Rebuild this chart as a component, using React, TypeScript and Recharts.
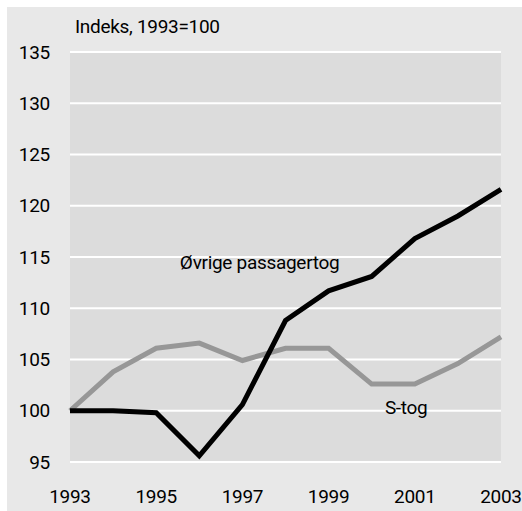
import { LineChart, Line, XAxis, YAxis, CartesianGrid, ReferenceDot } from 'recharts';

const years = [1993, 1994, 1995, 1996, 1997, 1998, 1999, 2000, 2001, 2002, 2003];
const ovrige = [100, 100, 99.8, 95.6, 100.6, 108.8, 111.7, 113.1, 116.8, 119.0, 121.6];
const stog = [100, 103.8, 106.1, 106.6, 104.9, 106.1, 106.1, 102.6, 102.6, 104.6, 107.2];
const xTicks = [1993, 1995, 1997, 1999, 2001, 2003];
const yTicks = [95, 100, 105, 110, 115, 120, 125, 130, 135];

const FONT = "Roboto, 'Open Sans', sans-serif";
const textStyle = { fontSize: 19, fill: '#000', fontFamily: FONT, letterSpacing: -0.3 };

const data = years.map((year, i) => ({ year, ovrige: ovrige[i], stog: stog[i] }));

export default function App() {
  return (
    <div style={{ position: 'absolute', left: 0, top: 0, width: 522, height: 511, fontFamily: FONT }}>
      <div style={{ position: 'absolute', left: 7, top: 7, width: 515, height: 504, background: '#e8e8e8' }} />
      <div style={{ position: 'absolute', left: 75, top: 15, fontSize: 19, color: '#000', letterSpacing: -0.3, lineHeight: '24px' }}>
        Indeks, 1993=100
      </div>
      <div style={{ position: 'absolute', left: 0, top: 0 }}>
        <LineChart width={522} height={511} data={data} margin={{ top: 52, right: 21, bottom: 9, left: 0 }}>
          <CartesianGrid vertical={false} stroke="#ffffff" strokeWidth={2} fill="#dcdcdc" syncWithTicks />
          <XAxis
            dataKey="year"
            type="number"
            domain={[1993, 2003]}
            ticks={xTicks}
            axisLine={false}
            tickLine={false}
            height={40}
            tickMargin={22}
            tick={textStyle}
          />
          <YAxis
            type="number"
            domain={[95, 135]}
            ticks={yTicks}
            axisLine={false}
            tickLine={false}
            width={70}
            tickMargin={14}
            tick={textStyle}
          />
          <Line dataKey="stog" stroke="#979797" strokeWidth={5} dot={false} isAnimationActive={false} strokeLinejoin="miter" />
          <Line dataKey="ovrige" stroke="#000000" strokeWidth={5} dot={false} isAnimationActive={false} strokeLinejoin="miter" />
          <ReferenceDot
            x={1997.4}
            y={114.5}
            r={0}
            label={{ value: 'Øvrige passagertog', position: 'center', ...textStyle }}
          />
          <ReferenceDot
            x={2000.8}
            y={100.3}
            r={0}
            label={{ value: 'S-tog', position: 'center', ...textStyle }}
          />
        </LineChart>
      </div>
    </div>
  );
}
